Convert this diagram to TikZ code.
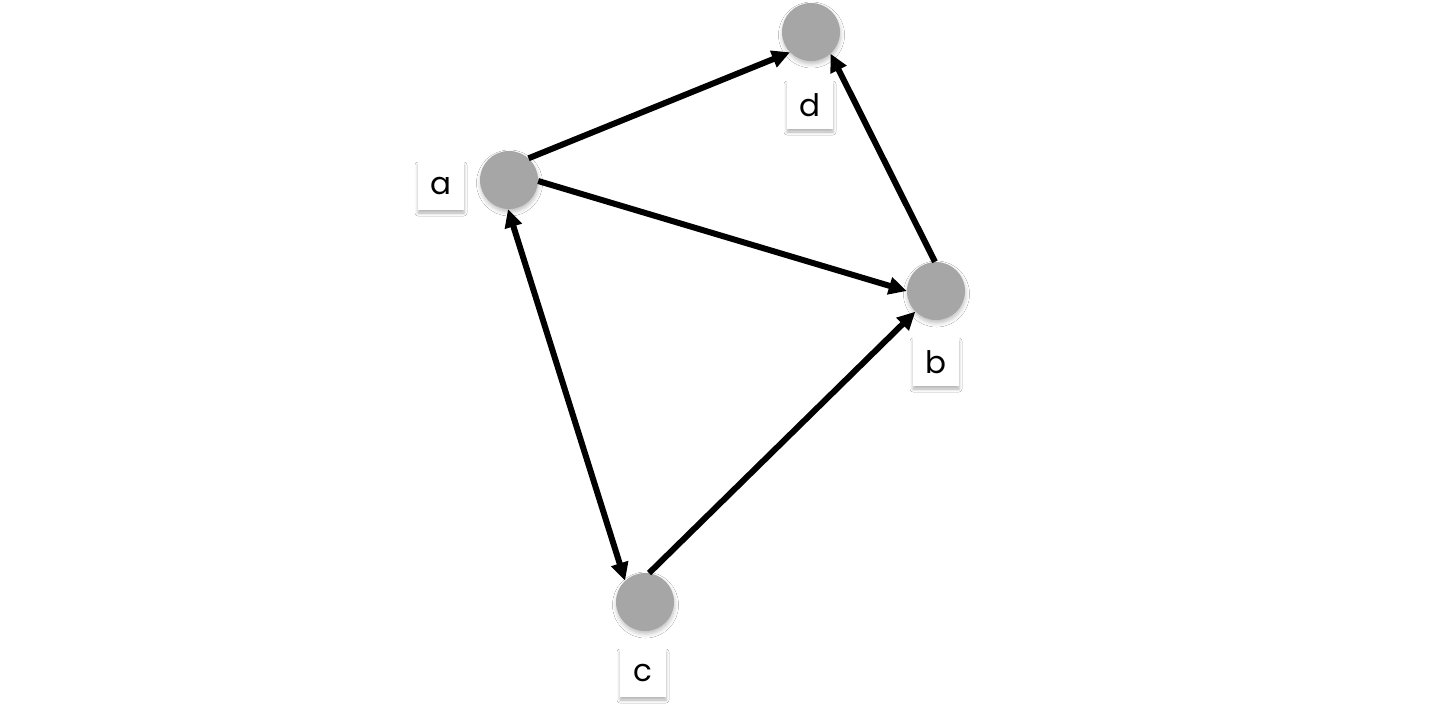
\documentclass[tikz,border=0pt]{standalone}
\usepackage{fontspec}
\setmainfont{Poppins}
\usetikzlibrary{arrows.meta,shadows.blur}
\definecolor{nodegray}{HTML}{A6A6A6}
\tikzset{
  vtx/.style={circle,fill=nodegray,minimum size=58pt,inner sep=0pt,
    blur shadow={shadow xshift=0.5pt,shadow yshift=-3pt,shadow blur radius=4pt,shadow opacity=25}},
  lbl/.style={rectangle,fill=white,minimum width=46pt,minimum height=48pt,inner sep=0pt,
    font=\fontsize{31}{34}\selectfont,
    blur shadow={shadow xshift=0pt,shadow yshift=-3pt,shadow blur radius=3pt,shadow opacity=30}},
  edge/.style={line width=6pt,black,-{Triangle[length=18pt,width=17pt]}},
  biedge/.style={line width=6pt,black,{Triangle[length=18pt,width=17pt]}-{Triangle[length=18pt,width=17pt]}}
}
\begin{document}
\begin{tikzpicture}[x=1pt,y=-1pt]
\useasboundingbox[fill=white] (0,0) rectangle (1453,725);
\node[vtx] (a) at (509,180) {};
\node[vtx] (d) at (811,32) {};
\node[vtx] (b) at (936,291) {};
\node[vtx] (c) at (645,602) {};
\node[lbl] (la) at (441,186) {a};
\node[lbl] (ld) at (810,105) {d};
\node[lbl] (lb) at (936,362) {b};
\node[lbl] (lc) at (643,673) {c};
\draw[edge] (a.48) -- (d.224);
\draw[edge] (b.92) -- (d.312);
\draw[edge] (a.-2) -- (b.180);
\draw[edge] (c.82) -- (b.225);
\draw[biedge] (a.-92) -- (c.133);
\end{tikzpicture}
\end{document}
